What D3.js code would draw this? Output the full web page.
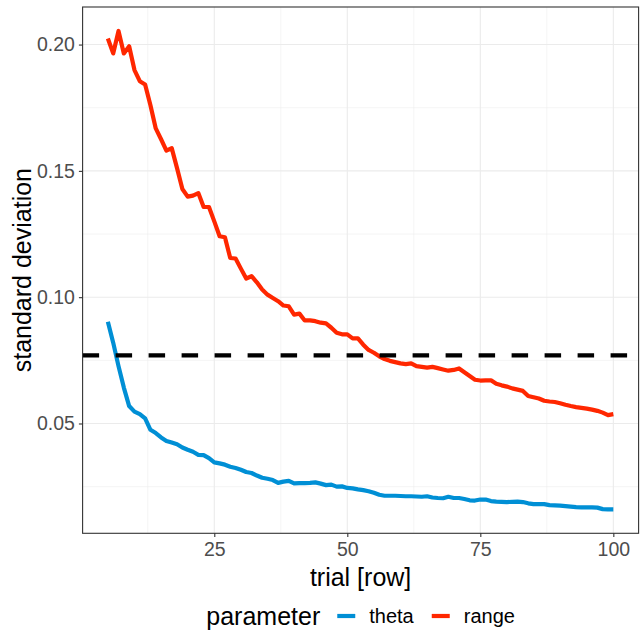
<!DOCTYPE html>
<html>
<head>
<meta charset="utf-8">
<script src="https://cdn.jsdelivr.net/npm/d3@7"></script>
<style>
html,body{margin:0;padding:0;background:#fff;}
svg{display:block;font-family:"Liberation Sans",Arial,sans-serif;}
</style>
</head>
<body>
<svg id="chart" width="644" height="630"></svg>
<script>
const trials = d3.range(5, 101);
const theta = [0.0903,0.0820,0.0727,0.0642,0.0569,0.0547,0.0537,0.0520,0.0475,0.0462,
0.0445,0.0431,0.0425,0.0418,0.0405,0.0396,0.0388,0.0376,0.0375,0.0363,
0.0346,0.0342,0.0337,0.0329,0.0324,0.0317,0.0308,0.0304,0.0294,0.0285,
0.0281,0.0276,0.0265,0.0270,0.0273,0.0263,0.0264,0.0264,0.0265,0.0267,
0.0262,0.0256,0.0258,0.0250,0.0251,0.0245,0.0243,0.0239,0.0236,0.0232,
0.0226,0.0218,0.0214,0.0214,0.0214,0.0213,0.0212,0.0212,0.0211,0.0210,
0.0212,0.0207,0.0205,0.0204,0.0210,0.0205,0.0205,0.0201,0.0196,0.0195,
0.0199,0.0199,0.0193,0.0191,0.0190,0.0189,0.0190,0.0191,0.0189,0.0184,
0.0181,0.0181,0.0181,0.0177,0.0176,0.0175,0.0173,0.0171,0.0169,0.0168,
0.0168,0.0168,0.0167,0.0161,0.0160,0.0160];
const range = [0.2024,0.1965,0.2054,0.1965,0.1993,0.1899,0.1855,0.1842,0.1760,0.1668,
0.1625,0.1580,0.1590,0.1511,0.1428,0.1398,0.1402,0.1412,0.1357,0.1357,
0.1300,0.1241,0.1237,0.1155,0.1153,0.1113,0.1074,0.1083,0.1059,0.1030,
0.1010,0.0997,0.0984,0.0967,0.0964,0.0931,0.0935,0.0908,0.0908,0.0905,
0.0899,0.0896,0.0879,0.0859,0.0853,0.0853,0.0837,0.0837,0.0812,0.0791,
0.0780,0.0766,0.0755,0.0748,0.0743,0.0738,0.0735,0.0738,0.0727,0.0724,
0.0721,0.0724,0.0719,0.0714,0.0709,0.0712,0.0718,0.0703,0.0688,0.0673,
0.0670,0.0671,0.0671,0.0657,0.0651,0.0646,0.0639,0.0634,0.0629,0.0609,
0.0604,0.0599,0.0590,0.0587,0.0585,0.0580,0.0574,0.0569,0.0565,0.0562,
0.0559,0.0555,0.0550,0.0543,0.0533,0.0537];
const seriesNames = ["theta", "range"];
const seriesColors = ["#008FD5", "#FF2700"];
const refLine = 0.077;
const xTicks = [25, 50, 75, 100];
const yTicks = [0.05, 0.10, 0.15, 0.20];
const xMinor = [12.5, 37.5, 62.5, 87.5];
const yMinor = [0.025, 0.075, 0.125, 0.175];

const svg = d3.select("#chart");
const P = {l: 82.6, r: 638.6, t: 7, b: 533.3};

const xExt = d3.extent(trials), xPad = (xExt[1]-xExt[0])*0.05;
const allY = theta.concat(range);
const yExt = d3.extent(allY), yPad = (yExt[1]-yExt[0])*0.05;
const x = d3.scaleLinear().domain([xExt[0]-xPad, xExt[1]+xPad]).range([P.l, P.r]);
const y = d3.scaleLinear().domain([yExt[0]-yPad, yExt[1]+yPad]).range([P.b, P.t]);

const g = svg.append("g");
// grid
g.selectAll(".xmin").data(xMinor).join("line")
  .attr("x1", d=>x(d)).attr("x2", d=>x(d)).attr("y1", P.t).attr("y2", P.b)
  .attr("stroke", "#EBEBEB").attr("stroke-width", 0.55);
g.selectAll(".ymin").data(yMinor).join("line")
  .attr("y1", d=>y(d)).attr("y2", d=>y(d)).attr("x1", P.l).attr("x2", P.r)
  .attr("stroke", "#EBEBEB").attr("stroke-width", 0.55);
g.selectAll(".xmaj").data(xTicks).join("line")
  .attr("x1", d=>x(d)).attr("x2", d=>x(d)).attr("y1", P.t).attr("y2", P.b)
  .attr("stroke", "#EBEBEB").attr("stroke-width", 1.1);
g.selectAll(".ymaj").data(yTicks).join("line")
  .attr("y1", d=>y(d)).attr("y2", d=>y(d)).attr("x1", P.l).attr("x2", P.r)
  .attr("stroke", "#EBEBEB").attr("stroke-width", 1.1);

// lines
const line = d3.line().x((d,i)=>x(trials[i])).y(d=>y(d));
[theta, range].forEach((s, k) => {
  g.append("path").datum(s).attr("d", line)
    .attr("fill", "none").attr("stroke", seriesColors[k])
    .attr("stroke-width", 4.2).attr("stroke-linejoin", "round").attr("stroke-linecap", "butt");
});

// reference line
g.append("line").attr("x1", P.l).attr("x2", P.r).attr("y1", y(refLine)).attr("y2", y(refLine))
  .attr("stroke", "#000").attr("stroke-width", 4.2).attr("stroke-dasharray", "16.5 16.5");

// border
g.append("rect").attr("x", P.l).attr("y", P.t).attr("width", P.r-P.l).attr("height", P.b-P.t)
  .attr("fill", "none").attr("stroke", "#333333").attr("stroke-width", 1.1);

// axes
const xAxis = d3.axisBottom(x).tickValues(xTicks).tickSize(3.7).tickPadding(4).tickFormat(d3.format("d"));
const yAxis = d3.axisLeft(y).tickValues(yTicks).tickSize(3.7).tickPadding(4).tickFormat(d3.format(".2f"));
const gx = svg.append("g").attr("transform", `translate(0,${P.b})`).call(xAxis);
const gy = svg.append("g").attr("transform", `translate(${P.l},0)`).call(yAxis);
[gx, gy].forEach(a => {
  a.select(".domain").remove();
  a.selectAll(".tick line").attr("stroke", "#333333").attr("stroke-width", 1.1);
  a.selectAll(".tick text").attr("fill", "#4D4D4D").attr("font-size", "19.5px")
   .attr("font-family", "Liberation Sans, Arial, sans-serif");
});
gx.selectAll(".tick text").attr("y", 15.7).attr("dy", "0.35em");

// axis titles
svg.append("text").attr("x", (P.l+P.r)/2).attr("y", 577).attr("dy", "0.35em")
  .attr("text-anchor", "middle").attr("font-size", "25px").attr("fill", "#000").text("trial [row]");
svg.append("text").attr("transform", `translate(22,${(P.t+P.b)/2}) rotate(-90)`).attr("dy", "0.35em")
  .attr("text-anchor", "middle").attr("font-size", "25px").attr("fill", "#000").text("standard deviation");

// legend
const lg = svg.append("g");
const ly = 616;
let cx = 0;
const title = lg.append("text").attr("x", cx).attr("y", ly).attr("dy", "0.35em")
  .attr("font-size", "25px").attr("fill", "#000").text("parameter");
cx += title.node().getComputedTextLength() + 17;
seriesNames.forEach((n, k) => {
  lg.append("line").attr("x1", cx).attr("x2", cx+18).attr("y1", ly).attr("y2", ly)
    .attr("stroke", seriesColors[k]).attr("stroke-width", 4.2);
  cx += 18 + 14;
  const t = lg.append("text").attr("x", cx).attr("y", ly).attr("dy", "0.35em")
    .attr("font-size", "20px").attr("fill", "#000").text(n);
  cx += t.node().getComputedTextLength() + 18;
});
cx -= 18;
lg.attr("transform", `translate(${(P.l+P.r)/2 - cx/2},0)`);
</script>
</body>
</html>
